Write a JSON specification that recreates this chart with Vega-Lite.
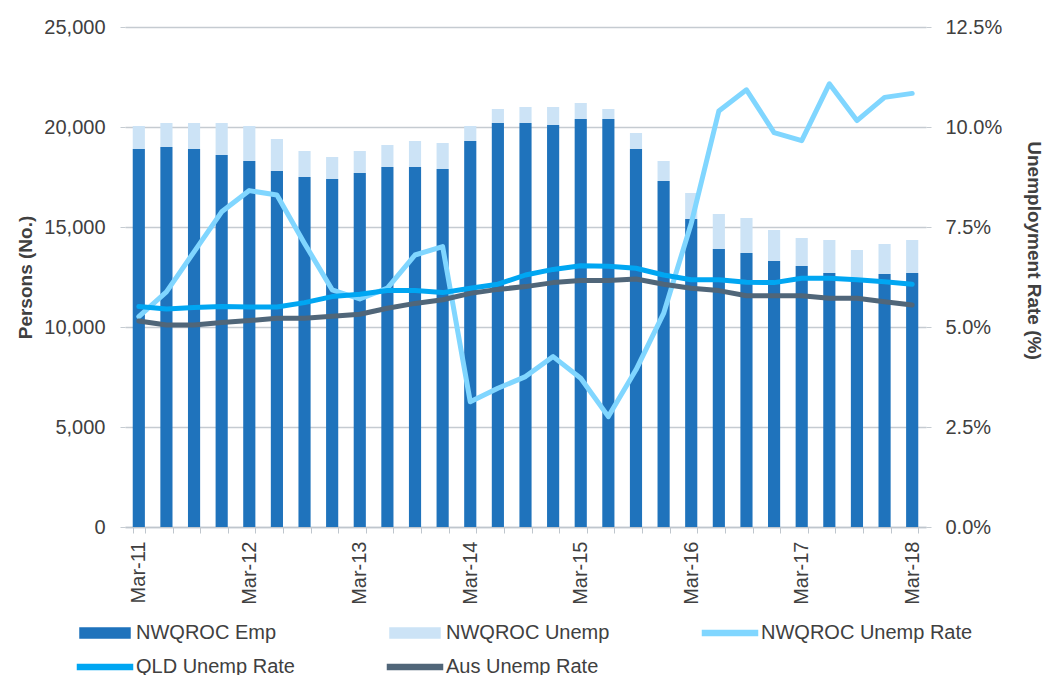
{
  "$schema": "https://vega.github.io/schema/vega-lite/v6.json",
  "width": 801,
  "height": 500,
  "autosize": "none",
  "padding": {"left": 125, "top": 27, "right": 124, "bottom": 148},
  "config": {
    "font": "Liberation Sans",
    "view": {"stroke": null},
    "axis": {"labelFont": "Liberation Sans", "labelFontSize": 20, "labelColor": "#404040", "titleFont": "Liberation Sans", "titleFontSize": 19, "titleFontWeight": "bold", "titleColor": "#404040"},
    "legend": {"labelFont": "Liberation Sans"}
  },
  "datasets": {
    "bars": [
      {"quarter": "Mar-11", "series": "NWQROC Emp", "persons": 18900}, {"quarter": "Mar-11", "series": "NWQROC Unemp", "persons": 1150},
      {"quarter": "Jun-11", "series": "NWQROC Emp", "persons": 19000}, {"quarter": "Jun-11", "series": "NWQROC Unemp", "persons": 1200},
      {"quarter": "Sep-11", "series": "NWQROC Emp", "persons": 18900}, {"quarter": "Sep-11", "series": "NWQROC Unemp", "persons": 1300},
      {"quarter": "Dec-11", "series": "NWQROC Emp", "persons": 18600}, {"quarter": "Dec-11", "series": "NWQROC Unemp", "persons": 1600},
      {"quarter": "Mar-12", "series": "NWQROC Emp", "persons": 18300}, {"quarter": "Mar-12", "series": "NWQROC Unemp", "persons": 1750},
      {"quarter": "Jun-12", "series": "NWQROC Emp", "persons": 17800}, {"quarter": "Jun-12", "series": "NWQROC Unemp", "persons": 1600},
      {"quarter": "Sep-12", "series": "NWQROC Emp", "persons": 17500}, {"quarter": "Sep-12", "series": "NWQROC Unemp", "persons": 1300},
      {"quarter": "Dec-12", "series": "NWQROC Emp", "persons": 17400}, {"quarter": "Dec-12", "series": "NWQROC Unemp", "persons": 1100},
      {"quarter": "Mar-13", "series": "NWQROC Emp", "persons": 17700}, {"quarter": "Mar-13", "series": "NWQROC Unemp", "persons": 1100},
      {"quarter": "Jun-13", "series": "NWQROC Emp", "persons": 18000}, {"quarter": "Jun-13", "series": "NWQROC Unemp", "persons": 1100},
      {"quarter": "Sep-13", "series": "NWQROC Emp", "persons": 18000}, {"quarter": "Sep-13", "series": "NWQROC Unemp", "persons": 1300},
      {"quarter": "Dec-13", "series": "NWQROC Emp", "persons": 17900}, {"quarter": "Dec-13", "series": "NWQROC Unemp", "persons": 1300},
      {"quarter": "Mar-14", "series": "NWQROC Emp", "persons": 19300}, {"quarter": "Mar-14", "series": "NWQROC Unemp", "persons": 750},
      {"quarter": "Jun-14", "series": "NWQROC Emp", "persons": 20200}, {"quarter": "Jun-14", "series": "NWQROC Unemp", "persons": 700},
      {"quarter": "Sep-14", "series": "NWQROC Emp", "persons": 20200}, {"quarter": "Sep-14", "series": "NWQROC Unemp", "persons": 800},
      {"quarter": "Dec-14", "series": "NWQROC Emp", "persons": 20100}, {"quarter": "Dec-14", "series": "NWQROC Unemp", "persons": 900},
      {"quarter": "Mar-15", "series": "NWQROC Emp", "persons": 20400}, {"quarter": "Mar-15", "series": "NWQROC Unemp", "persons": 800},
      {"quarter": "Jun-15", "series": "NWQROC Emp", "persons": 20400}, {"quarter": "Jun-15", "series": "NWQROC Unemp", "persons": 500},
      {"quarter": "Sep-15", "series": "NWQROC Emp", "persons": 18900}, {"quarter": "Sep-15", "series": "NWQROC Unemp", "persons": 800},
      {"quarter": "Dec-15", "series": "NWQROC Emp", "persons": 17300}, {"quarter": "Dec-15", "series": "NWQROC Unemp", "persons": 1000},
      {"quarter": "Mar-16", "series": "NWQROC Emp", "persons": 15400}, {"quarter": "Mar-16", "series": "NWQROC Unemp", "persons": 1300},
      {"quarter": "Jun-16", "series": "NWQROC Emp", "persons": 13900}, {"quarter": "Jun-16", "series": "NWQROC Unemp", "persons": 1750},
      {"quarter": "Sep-16", "series": "NWQROC Emp", "persons": 13700}, {"quarter": "Sep-16", "series": "NWQROC Unemp", "persons": 1750},
      {"quarter": "Dec-16", "series": "NWQROC Emp", "persons": 13300}, {"quarter": "Dec-16", "series": "NWQROC Unemp", "persons": 1550},
      {"quarter": "Mar-17", "series": "NWQROC Emp", "persons": 13050}, {"quarter": "Mar-17", "series": "NWQROC Unemp", "persons": 1400},
      {"quarter": "Jun-17", "series": "NWQROC Emp", "persons": 12700}, {"quarter": "Jun-17", "series": "NWQROC Unemp", "persons": 1650},
      {"quarter": "Sep-17", "series": "NWQROC Emp", "persons": 12400}, {"quarter": "Sep-17", "series": "NWQROC Unemp", "persons": 1450},
      {"quarter": "Dec-17", "series": "NWQROC Emp", "persons": 12650}, {"quarter": "Dec-17", "series": "NWQROC Unemp", "persons": 1500},
      {"quarter": "Mar-18", "series": "NWQROC Emp", "persons": 12700}, {"quarter": "Mar-18", "series": "NWQROC Unemp", "persons": 1650}
    ],
    "rates": [
      {"quarter": "Mar-11", "series": "NWQROC Unemp Rate", "rate": 0.0526}, {"quarter": "Mar-11", "series": "QLD Unemp Rate", "rate": 0.0551}, {"quarter": "Mar-11", "series": "Aus Unemp Rate", "rate": 0.0515},
      {"quarter": "Jun-11", "series": "NWQROC Unemp Rate", "rate": 0.0588}, {"quarter": "Jun-11", "series": "QLD Unemp Rate", "rate": 0.0545}, {"quarter": "Jun-11", "series": "Aus Unemp Rate", "rate": 0.0505},
      {"quarter": "Sep-11", "series": "NWQROC Unemp Rate", "rate": 0.0688}, {"quarter": "Sep-11", "series": "QLD Unemp Rate", "rate": 0.0549}, {"quarter": "Sep-11", "series": "Aus Unemp Rate", "rate": 0.0505},
      {"quarter": "Dec-11", "series": "NWQROC Unemp Rate", "rate": 0.0788}, {"quarter": "Dec-11", "series": "QLD Unemp Rate", "rate": 0.0551}, {"quarter": "Dec-11", "series": "Aus Unemp Rate", "rate": 0.0511},
      {"quarter": "Mar-12", "series": "NWQROC Unemp Rate", "rate": 0.0841}, {"quarter": "Mar-12", "series": "QLD Unemp Rate", "rate": 0.055}, {"quarter": "Mar-12", "series": "Aus Unemp Rate", "rate": 0.0516},
      {"quarter": "Jun-12", "series": "NWQROC Unemp Rate", "rate": 0.083}, {"quarter": "Jun-12", "series": "QLD Unemp Rate", "rate": 0.055}, {"quarter": "Jun-12", "series": "Aus Unemp Rate", "rate": 0.0522},
      {"quarter": "Sep-12", "series": "NWQROC Unemp Rate", "rate": 0.0709}, {"quarter": "Sep-12", "series": "QLD Unemp Rate", "rate": 0.0561}, {"quarter": "Sep-12", "series": "Aus Unemp Rate", "rate": 0.0522},
      {"quarter": "Dec-12", "series": "NWQROC Unemp Rate", "rate": 0.0593}, {"quarter": "Dec-12", "series": "QLD Unemp Rate", "rate": 0.0576}, {"quarter": "Dec-12", "series": "Aus Unemp Rate", "rate": 0.0527},
      {"quarter": "Mar-13", "series": "NWQROC Unemp Rate", "rate": 0.057}, {"quarter": "Mar-13", "series": "QLD Unemp Rate", "rate": 0.0582}, {"quarter": "Mar-13", "series": "Aus Unemp Rate", "rate": 0.0532},
      {"quarter": "Jun-13", "series": "NWQROC Unemp Rate", "rate": 0.0597}, {"quarter": "Jun-13", "series": "QLD Unemp Rate", "rate": 0.0591}, {"quarter": "Jun-13", "series": "Aus Unemp Rate", "rate": 0.0547},
      {"quarter": "Sep-13", "series": "NWQROC Unemp Rate", "rate": 0.068}, {"quarter": "Sep-13", "series": "QLD Unemp Rate", "rate": 0.0591}, {"quarter": "Sep-13", "series": "Aus Unemp Rate", "rate": 0.0559},
      {"quarter": "Dec-13", "series": "NWQROC Unemp Rate", "rate": 0.0701}, {"quarter": "Dec-13", "series": "QLD Unemp Rate", "rate": 0.0586}, {"quarter": "Dec-13", "series": "Aus Unemp Rate", "rate": 0.0568},
      {"quarter": "Mar-14", "series": "NWQROC Unemp Rate", "rate": 0.0313}, {"quarter": "Mar-14", "series": "QLD Unemp Rate", "rate": 0.0597}, {"quarter": "Mar-14", "series": "Aus Unemp Rate", "rate": 0.0584},
      {"quarter": "Jun-14", "series": "NWQROC Unemp Rate", "rate": 0.0347}, {"quarter": "Jun-14", "series": "QLD Unemp Rate", "rate": 0.0607}, {"quarter": "Jun-14", "series": "Aus Unemp Rate", "rate": 0.0594},
      {"quarter": "Sep-14", "series": "NWQROC Unemp Rate", "rate": 0.0376}, {"quarter": "Sep-14", "series": "QLD Unemp Rate", "rate": 0.063}, {"quarter": "Sep-14", "series": "Aus Unemp Rate", "rate": 0.0601},
      {"quarter": "Dec-14", "series": "NWQROC Unemp Rate", "rate": 0.0426}, {"quarter": "Dec-14", "series": "QLD Unemp Rate", "rate": 0.0644}, {"quarter": "Dec-14", "series": "Aus Unemp Rate", "rate": 0.0611},
      {"quarter": "Mar-15", "series": "NWQROC Unemp Rate", "rate": 0.0372}, {"quarter": "Mar-15", "series": "QLD Unemp Rate", "rate": 0.0653}, {"quarter": "Mar-15", "series": "Aus Unemp Rate", "rate": 0.0616},
      {"quarter": "Jun-15", "series": "NWQROC Unemp Rate", "rate": 0.0276}, {"quarter": "Jun-15", "series": "QLD Unemp Rate", "rate": 0.0652}, {"quarter": "Jun-15", "series": "Aus Unemp Rate", "rate": 0.0616},
      {"quarter": "Sep-15", "series": "NWQROC Unemp Rate", "rate": 0.0393}, {"quarter": "Sep-15", "series": "QLD Unemp Rate", "rate": 0.0647}, {"quarter": "Sep-15", "series": "Aus Unemp Rate", "rate": 0.062},
      {"quarter": "Dec-15", "series": "NWQROC Unemp Rate", "rate": 0.0534}, {"quarter": "Dec-15", "series": "QLD Unemp Rate", "rate": 0.063}, {"quarter": "Dec-15", "series": "Aus Unemp Rate", "rate": 0.0607},
      {"quarter": "Mar-16", "series": "NWQROC Unemp Rate", "rate": 0.0759}, {"quarter": "Mar-16", "series": "QLD Unemp Rate", "rate": 0.0618}, {"quarter": "Mar-16", "series": "Aus Unemp Rate", "rate": 0.0597},
      {"quarter": "Jun-16", "series": "NWQROC Unemp Rate", "rate": 0.104}, {"quarter": "Jun-16", "series": "QLD Unemp Rate", "rate": 0.0618}, {"quarter": "Jun-16", "series": "Aus Unemp Rate", "rate": 0.0591},
      {"quarter": "Sep-16", "series": "NWQROC Unemp Rate", "rate": 0.1093}, {"quarter": "Sep-16", "series": "QLD Unemp Rate", "rate": 0.0612}, {"quarter": "Sep-16", "series": "Aus Unemp Rate", "rate": 0.0578},
      {"quarter": "Dec-16", "series": "NWQROC Unemp Rate", "rate": 0.0986}, {"quarter": "Dec-16", "series": "QLD Unemp Rate", "rate": 0.0611}, {"quarter": "Dec-16", "series": "Aus Unemp Rate", "rate": 0.0578},
      {"quarter": "Mar-17", "series": "NWQROC Unemp Rate", "rate": 0.0966}, {"quarter": "Mar-17", "series": "QLD Unemp Rate", "rate": 0.0622}, {"quarter": "Mar-17", "series": "Aus Unemp Rate", "rate": 0.0578},
      {"quarter": "Jun-17", "series": "NWQROC Unemp Rate", "rate": 0.1108}, {"quarter": "Jun-17", "series": "QLD Unemp Rate", "rate": 0.0622}, {"quarter": "Jun-17", "series": "Aus Unemp Rate", "rate": 0.0572},
      {"quarter": "Sep-17", "series": "NWQROC Unemp Rate", "rate": 0.1016}, {"quarter": "Sep-17", "series": "QLD Unemp Rate", "rate": 0.0618}, {"quarter": "Sep-17", "series": "Aus Unemp Rate", "rate": 0.0572},
      {"quarter": "Dec-17", "series": "NWQROC Unemp Rate", "rate": 0.1074}, {"quarter": "Dec-17", "series": "QLD Unemp Rate", "rate": 0.0613}, {"quarter": "Dec-17", "series": "Aus Unemp Rate", "rate": 0.0563},
      {"quarter": "Mar-18", "series": "NWQROC Unemp Rate", "rate": 0.1084}, {"quarter": "Mar-18", "series": "QLD Unemp Rate", "rate": 0.0607}, {"quarter": "Mar-18", "series": "Aus Unemp Rate", "rate": 0.0555}
    ]
  },
  "encoding": {
    "x": {
      "field": "quarter",
      "type": "ordinal",
      "title": null,
      "scale": {
        "domain": ["Mar-11","Jun-11","Sep-11","Dec-11","Mar-12","Jun-12","Sep-12","Dec-12","Mar-13","Jun-13","Sep-13","Dec-13","Mar-14","Jun-14","Sep-14","Dec-14","Mar-15","Jun-15","Sep-15","Dec-15","Mar-16","Jun-16","Sep-16","Dec-16","Mar-17","Jun-17","Sep-17","Dec-17","Mar-18"],
        "paddingInner": 0.56,
        "paddingOuter": 0.28
      },
      "axis": {
        "labelAngle": 270,
        "labelAlign": "right",
        "labelBaseline": "middle",
        "labelPadding": 8,
        "labelExpr": "indexof(datum.label, 'Mar') == 0 ? datum.label : ''",
        "tickBand": "extent",
        "tickSize": 6,
        "tickColor": "#BFC6CD",
        "domainColor": "#BFC6CD",
        "domainWidth": 1.5,
        "grid": false
      }
    }
  },
  "layer": [
    {
      "data": {"name": "bars"},
      "mark": {"type": "bar"},
      "encoding": {
        "y": {
          "field": "persons",
          "type": "quantitative",
          "stack": "zero",
          "scale": {"domain": [0, 25000], "nice": false},
          "axis": {
            "title": "Persons (No.)",
            "values": [0, 5000, 10000, 15000, 20000, 25000],
            "format": ",.0f",
            "grid": true,
            "gridColor": "#C5CBD1",
            "gridWidth": 1.5,
            "domain": false,
            "tickColor": "#C5CBD1",
            "tickSize": 5,
            "labelPadding": 15,
            "titlePadding": 8
          }
        },
        "color": {
          "field": "series",
          "type": "nominal",
          "scale": {
            "domain": ["NWQROC Emp", "NWQROC Unemp", "NWQROC Unemp Rate", "QLD Unemp Rate", "Aus Unemp Rate"],
            "range": ["#1F73BC", "#CCE3F6", "#80D6FF", "#00A6F2", "#506679"]
          },
          "legend": {
            "orient": "none",
            "legendX": -30,
            "legendY": 596,
            "direction": "horizontal",
            "columns": 3,
            "title": null,
            "labelFontSize": 20,
            "labelColor": "#404040",
            "labelLimit": 400,
            "labelOffset": 21,
            "symbolSize": 100,
            "columnPadding": 89,
            "rowPadding": 14,
            "encode": {
              "symbols": {
                "update": {
                  "shape": {"signal": "indexof(datum.value, 'Rate') >= 0 ? 'M-5.5,-0.5H5.5V0.5H-5.5Z' : 'M-5,-1H5V1H-5Z'"},
                  "fill": {"scale": "color", "field": "value"},
                  "stroke": {"value": "transparent"},
                  "opacity": {"value": 1}
                }
              }
            }
          }
        },
        "order": {"field": "series", "sort": "ascending"}
      }
    },
    {
      "data": {"name": "rates"},
      "mark": {"type": "line", "strokeWidth": 5, "strokeCap": "round", "strokeJoin": "round"},
      "encoding": {
        "y": {
          "field": "rate",
          "type": "quantitative",
          "scale": {"domain": [0, 0.125], "nice": false},
          "axis": {
            "orient": "right",
            "title": "Unemployment Rate (%)",
            "values": [0, 0.025, 0.05, 0.075, 0.1, 0.125],
            "format": ".1%",
            "grid": false,
            "domain": false,
            "tickColor": "#C5CBD1",
            "tickSize": 5,
            "labelPadding": 14,
            "titlePadding": 22,
            "titleY": 223
          }
        },
        "color": {"field": "series", "type": "nominal"}
      }
    }
  ],
  "resolve": {"scale": {"y": "independent"}}
}
